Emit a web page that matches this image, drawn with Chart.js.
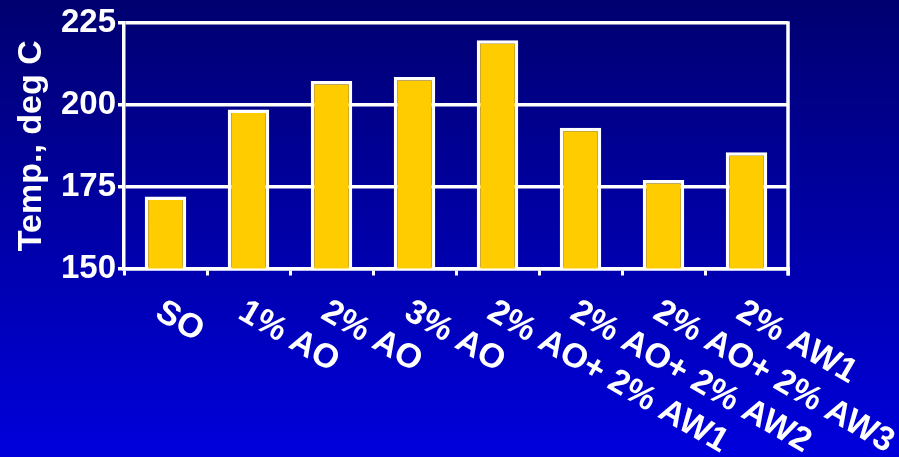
<!DOCTYPE html>
<html>
<head>
<meta charset="utf-8">
<script src="https://cdn.jsdelivr.net/npm/chart.js@4.4.1/dist/chart.umd.min.js"></script>
<style>
  html, body { margin: 0; padding: 0; background: #0000a0; }
  #tempChart { display: block; }
</style>
</head>
<body>
<canvas id="tempChart" width="899" height="457"></canvas>
<script>
// oil blends and their measured temperature
var blends = ['SO', '1% AO', '2% AO', '3% AO', '2% AO+ 2% AW1', '2% AO+ 2% AW2', '2% AO+ 2% AW3', '2% AW1'];
var temps = [172, 198.6, 207.3, 208.5, 219.7, 193, 177, 185.5];
var yTicks = [150, 175, 200, 225];

var fontFamily = "'Liberation Sans', Arial, Helvetica, sans-serif";

// blue slide background, dark at the top
var backdrop = {
  id: 'backdrop',
  beforeDraw: function(chart) {
    let ctx = chart.ctx;
    let g = ctx.createLinearGradient(0, 0, 0, chart.height);
    g.addColorStop(0, '#000070');
    g.addColorStop(1, '#0000dc');
    ctx.save();
    ctx.fillStyle = g;
    ctx.fillRect(0, 0, chart.width, chart.height);
    ctx.restore();
  }
};

// right edge of the plot box + slanted category labels
var frameAndLabels = {
  id: 'frameAndLabels',
  afterDraw: function(chart) {
    let ctx = chart.ctx;
    let area = chart.chartArea;
    ctx.save();
    ctx.strokeStyle = '#ffffff';
    ctx.lineWidth = 3.5;
    ctx.beginPath();
    ctx.moveTo(area.right, area.top - 1.75);
    ctx.lineTo(area.right, area.bottom + 7);
    ctx.stroke();

    let xs = chart.scales.x;
    ctx.fillStyle = '#ffffff';
    ctx.font = 'bold 34px ' + fontFamily;
    ctx.textAlign = 'left';
    ctx.textBaseline = 'alphabetic';
    for (let i = 0; i < chart.data.labels.length; i++) {
      let cx = xs.getPixelForValue(i);
      ctx.save();
      ctx.translate(cx - 12, area.bottom + 49);
      ctx.rotate(Math.PI / 6);
      ctx.fillText(chart.data.labels[i], 0, 0);
      ctx.restore();
    }
    ctx.restore();
  }
};

var ctxT = document.getElementById('tempChart').getContext('2d');
var tempChart = new Chart(ctxT, {
  type: 'bar',
  data: {
    labels: blends,
    datasets: [{
      data: temps,
      backgroundColor: '#ffcc00',
      borderColor: '#ffffff',
      borderWidth: 3.5,
      borderSkipped: 'bottom',
      barPercentage: 0.5,
      categoryPercentage: 1.0
    }]
  },
  options: {
    responsive: false,
    devicePixelRatio: 1,
    animation: false,
    layout: {
      padding: { top: 23, right: 111, bottom: 0, left: 0 }
    },
    plugins: {
      legend: { display: false },
      tooltip: { enabled: false }
    },
    scales: {
      x: {
        grid: {
          offset: true,
          drawOnChartArea: false,
          drawTicks: true,
          tickLength: 7,
          color: '#ffffff',
          lineWidth: 3
        },
        border: { color: '#ffffff', width: 3.5 },
        ticks: { display: false },
        afterFit: function(scale) { scale.height = 457 - 268.5; }
      },
      y: {
        min: 150,
        max: 225,
        afterBuildTicks: function(scale) {
          scale.ticks = yTicks.map(function(v) { return { value: v }; });
        },
        grid: {
          color: '#ffffff',
          lineWidth: 3.5,
          tickLength: 6
        },
        border: { color: '#ffffff', width: 3.5 },
        ticks: {
          color: '#ffffff',
          padding: 2,
          font: { family: fontFamily, size: 33, weight: 'bold' }
        },
        title: {
          display: true,
          text: 'Temp., deg C',
          color: '#ffffff',
          padding: { top: 11, bottom: 0 },
          font: { family: fontFamily, size: 34, weight: 'bold' }
        },
        afterFit: function(scale) { scale.width = 124; }
      }
    }
  },
  plugins: [backdrop, frameAndLabels]
});
</script>
</body>
</html>
